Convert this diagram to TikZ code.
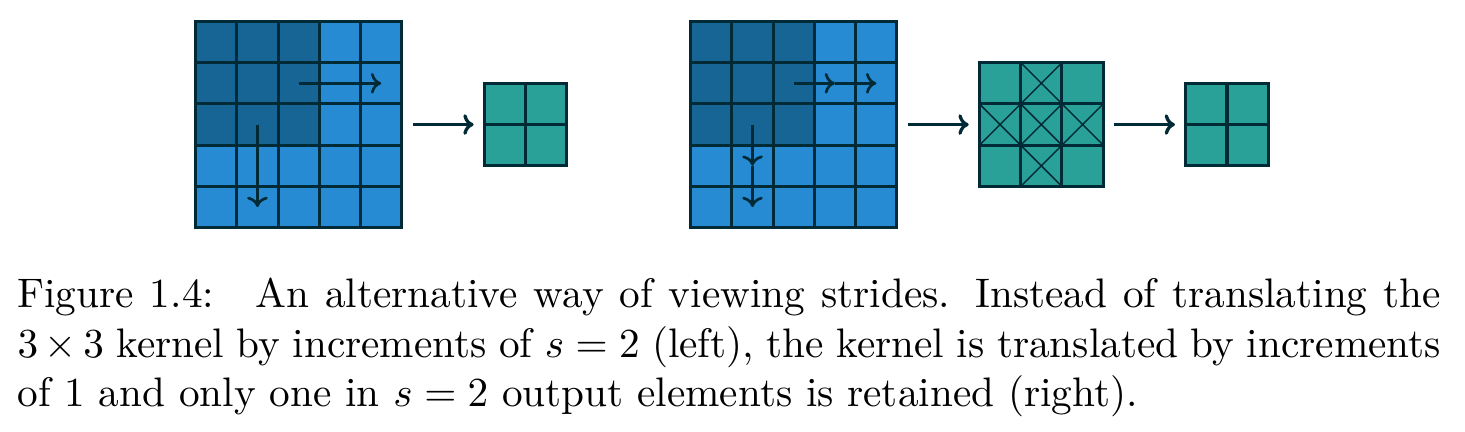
\documentclass[tikz,border=0pt]{standalone}
\usepackage{tikz}
\usetikzlibrary{arrows.meta,positioning,fit}
\usepackage{xcolor}
\definecolor{SolBlue}{HTML}{268BD2}
\definecolor{SolCyan}{HTML}{2AA198}
\definecolor{SolBase}{HTML}{002B36}
\tikzset{
  cell node/.style={draw=SolBase,line width=0.75pt,minimum size=10pt,
    inner sep=0pt,outer sep=0pt},
  grid node/.style={inner sep=0pt,outer sep=0pt},
  flow arrow/.style={-{Computer Modern Rightarrow[length=2.5pt,width=5pt]},
    draw=SolBase,line width=0.8pt,shorten <=2.6pt,shorten >=2.6pt},
  stride arrow/.style={-{Computer Modern Rightarrow[length=2.5pt,width=5pt]},
    draw=SolBase,line width=0.65pt},
  skip mark/.style={draw=SolBase,line width=0.35pt}
}

\begin{document}
\begin{tikzpicture}[x=10pt,y=10pt]
  \useasboundingbox (-4.74,-4.929) rectangle (30.77,5.519);
  % input, stride 2
  \foreach \r in {1,...,5}
    \foreach \c in {1,...,5} {
      \pgfmathtruncatemacro\shade{100-40*(\r<4)*(\c<4)}
      \node[cell node,fill=SolBlue!\shade!SolBase] (inA-\r-\c) at (\c-0.5,5.5-\r) {};
    }
  \node[grid node,fit=(inA-1-1)(inA-5-5)] (inA) {};
  \foreach \r in {1,2}
    \foreach \c in {1,2}
      \node[cell node,fill=SolCyan] (outA-\r-\c) at (6.5+\c,4-\r) {};
  \node[grid node,fit=(outA-1-1)(outA-2-2)] (outA) {};
  \draw[stride arrow] (inA-2-3.center) -- (inA-2-5.center);
  \draw[stride arrow] (inA-3-2.center) -- (inA-5-2.center);
  \draw[flow arrow] (inA) -- (outA);

  % input, stride 1 then keep one in two
  \foreach \r in {1,...,5}
    \foreach \c in {1,...,5} {
      \pgfmathtruncatemacro\shade{100-40*(\r<4)*(\c<4)}
      \node[cell node,fill=SolBlue!\shade!SolBase] (inB-\r-\c) at (11.5+\c,5.5-\r) {};
    }
  \node[grid node,fit=(inB-1-1)(inB-5-5)] (inB) {};
  \foreach \r in {1,...,3}
    \foreach \c in {1,...,3}
      \node[cell node,fill=SolCyan] (mid-\r-\c) at (18.5+\c,4.5-\r) {};
  \node[grid node,fit=(mid-1-1)(mid-3-3)] (mid) {};
  \foreach \r/\c in {1/2,2/1,2/2,2/3,3/2}
    \draw[skip mark] (mid-\r-\c.north west) -- (mid-\r-\c.south east)
      (mid-\r-\c.north east) -- (mid-\r-\c.south west);
  \foreach \r in {1,2}
    \foreach \c in {1,2}
      \node[cell node,fill=SolCyan] (outB-\r-\c) at (23.5+\c,4-\r) {};
  \node[grid node,fit=(outB-1-1)(outB-2-2)] (outB) {};
  \draw[stride arrow] (inB-2-3.center) -- (inB-2-4.center);
  \draw[stride arrow] (inB-2-4.center) -- (inB-2-5.center);
  \draw[stride arrow] (inB-3-2.center) -- (inB-4-2.center);
  \draw[stride arrow] (inB-4-2.center) -- (inB-5-2.center);
  \draw[flow arrow] (inB) -- (mid);
  \draw[flow arrow] (mid) -- (outB);

  \node[anchor=north west,inner sep=0pt,text width=345pt,align=justify]
    (figcap) at (-4.335,-1.206) {Figure 1.4:\quad An alternative way of viewing
    strides. Instead of translating the $3\times3$ kernel by increments of
    $s=2$ (left), the kernel is translated by increments of 1 and only one in
    $s=2$ output elements is retained (right).};
\end{tikzpicture}
\end{document}
